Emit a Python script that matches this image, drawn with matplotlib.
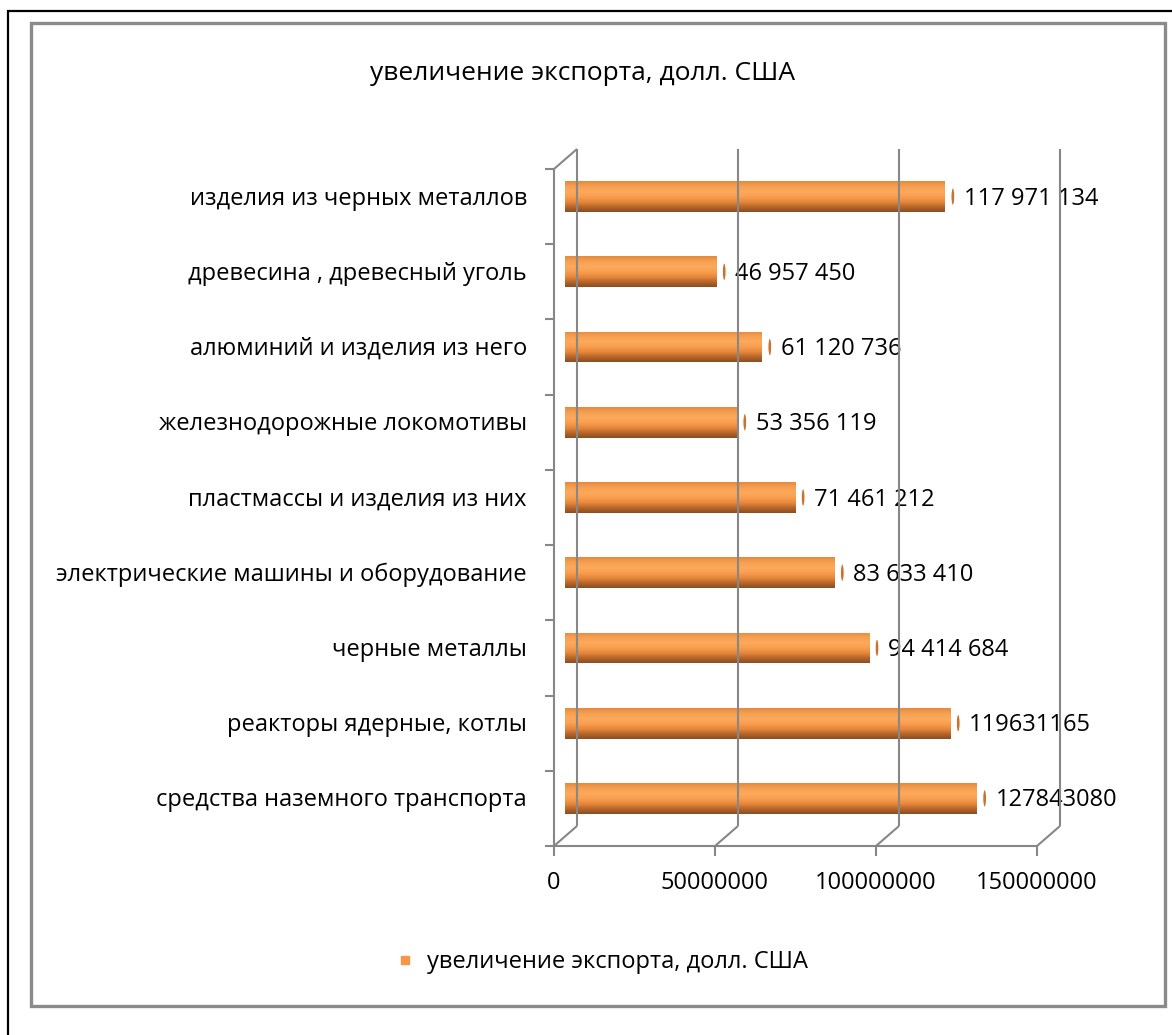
import matplotlib
matplotlib.use("Agg")
import matplotlib.pyplot as plt
import matplotlib.transforms as mtransforms
from matplotlib.colors import LinearSegmentedColormap
from matplotlib.lines import Line2D
from matplotlib.patches import Ellipse, Rectangle
import numpy as np

# data (bottom to top, as in the chart)
categories = [
    "средства наземного транспорта",
    "реакторы ядерные, котлы",
    "черные металлы",
    "электрические машины и оборудование",
    "пластмассы и изделия из них",
    "железнодорожные локомотивы",
    "алюминий и изделия из него",
    "древесина , древесный уголь",
    "изделия из черных металлов",
]
values = [127843080, 119631165, 94414684, 83633410, 71461212, 53356119, 61120736, 46957450, 117971134]
value_labels = ["127843080", "119631165", "94 414 684", "83 633 410", "71 461 212",
                "53 356 119", "61 120 736", "46 957 450", "117 971 134"]
x_ticks = [0, 50000000, 100000000, 150000000]
x_tick_labels = ["0", "50000000", "100000000", "150000000"]
series_name = "увеличение экспорта, долл. США"

W, H, DPI = 1172, 1035, 100
GRID = "#878787"
ORANGE = "#F79646"
plt.rcParams["font.family"] = ["Open Sans", "DejaVu Sans"]

fig = plt.figure(figsize=(W / DPI, H / DPI), dpi=DPI)


def px_box(x0, y0, x1, y1):
    # image pixel box -> figure fraction [left, bottom, width, height]
    return [x0 / W, 1 - y1 / H, (x1 - x0) / W, (y1 - y0) / H]


def shift(dx, dy):
    return mtransforms.ScaledTranslation(dx / DPI, dy / DPI, fig.dpi_scale_trans)


def seg(p0, p1, **kw):
    inv = fig.transFigure.inverted()
    a, b = inv.transform(p0), inv.transform(p1)
    fig.add_artist(Line2D([a[0], b[0]], [a[1], b[1]], transform=fig.transFigure, **kw))


# outer frames
fig.add_artist(Rectangle((8 / W, -0.1), 1.2, 1 - 11 / H + 0.1, transform=fig.transFigure,
                         fill=False, edgecolor="black", linewidth=1.6))
fig.add_artist(Rectangle((31 / W, 1 - 1006 / H), (1165 - 31) / W, (1006 - 23) / H,
                         transform=fig.transFigure, fill=False, edgecolor="#8a8a8a", linewidth=2.4))

ax = fig.add_axes(px_box(565, 159, 1048, 836))
ymin, ymax = -0.5, len(categories) - 0.5
ax.set_xlim(0, 150000000)
ax.set_ylim(ymin, ymax)
ax.axis("off")
fig.canvas.draw()

back = ax.transData + shift(12, 10)
front = ax.transData + shift(-11, -10)
line_kw = dict(color=GRID, linewidth=1.5, solid_capstyle="butt")

# back wall gridlines + floor diagonals
for t in x_ticks:
    seg(back.transform((t, ymax)), back.transform((t, ymin)), **line_kw)
    seg(back.transform((t, ymin)), front.transform((t, ymin)), **line_kw)
    p = front.transform((t, ymin))
    seg(p, (p[0], p[1] - 10), **line_kw)
# top-left diagonal and front-left axis
seg(front.transform((0, ymax)), back.transform((0, ymax)), **line_kw)
seg(front.transform((0, ymax)), front.transform((0, ymin)), **line_kw)
seg(front.transform((0, ymin)), front.transform((150000000, ymin)), **line_kw)
for k in range(len(categories) + 1):
    p = front.transform((0, ymin + k))
    seg(p, (p[0] - 9, p[1]), **line_kw)

# cylinder-like bars
cyl = LinearSegmentedColormap.from_list(
    "cyl", ["#8A4E22", "#B8672B", "#E8893C", "#F99F50", "#FCA95C", "#F6A052", "#E68A3C"])
grad = np.linspace(0, 1, 64).reshape(-1, 1)
h = 0.41
for i, v in enumerate(values):
    bar = ax.barh(i, v, height=h, color=ORANGE, edgecolor="white", linewidth=2.5, zorder=3)[0]
    im = ax.imshow(grad, extent=(0, v, i - h / 2, i + h / 2), origin="lower", aspect="auto",
                   cmap=cyl, zorder=4, interpolation="bilinear")
    im.set_clip_path(bar)
    ax.add_patch(Ellipse((v, i), 1200000, 0.24, transform=ax.transData + shift(8, 0),
                         facecolor="#C8732F", edgecolor="white", linewidth=0.8, zorder=5))
    ax.annotate(value_labels[i], (v, i), xytext=(19, -2), textcoords="offset pixels",
                ha="left", va="center", fontsize=17, color="black", zorder=6)
    ax.annotate(categories[i], (0, i), xytext=(-38, -2), textcoords="offset pixels",
                ha="right", va="center", fontsize=17, color="black")
ax.set_xlim(0, 150000000)
ax.set_ylim(ymin, ymax)

for t, lbl in zip(x_ticks, x_tick_labels):
    ax.annotate(lbl, (t, ymin), xycoords=front, xytext=(0, -37), textcoords="offset pixels",
                ha="center", va="center", fontsize=17, annotation_clip=False)

fig.text(583 / W, 1 - 73 / H, series_name, ha="center", va="center", fontsize=19)

handle = Line2D([], [], linestyle="none", marker="s", markersize=6, color=ORANGE)
fig.legend(handles=[handle], labels=[series_name], loc="center",
           bbox_to_anchor=(603 / W, 1 - 962 / H), frameon=False, fontsize=17,
           handlelength=0.6, handletextpad=0.6)

fig.savefig("out.png", dpi=DPI)
